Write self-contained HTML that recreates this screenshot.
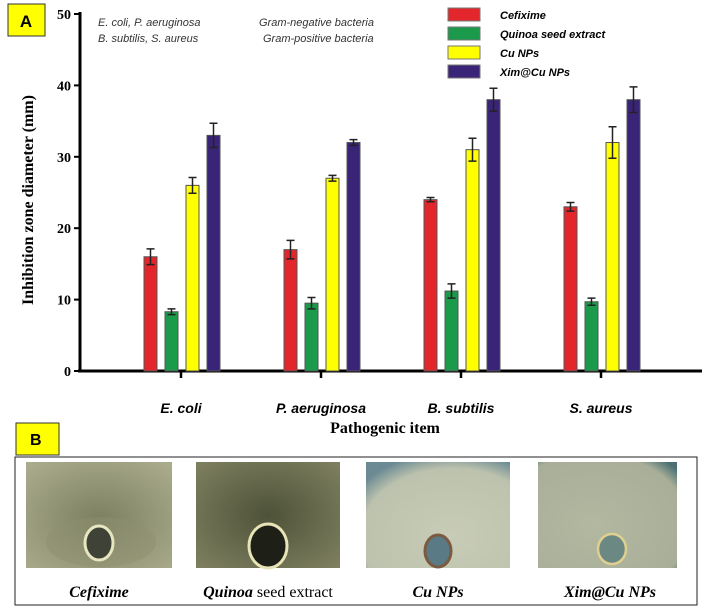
<!DOCTYPE html>
<html><head><meta charset="utf-8"><style>
body{margin:0;background:#fff;width:708px;height:612px;overflow:hidden;font-family:"Liberation Sans",sans-serif}
svg{position:absolute;left:0;top:0}
</style></head><body>
<svg width="708" height="612" id="chart">
<defs>
<radialGradient id="g1" cx="0.5" cy="0.55" r="0.7"><stop offset="0" stop-color="#7c8060"/><stop offset="1" stop-color="#a9ab8c"/></radialGradient>
<radialGradient id="g2" cx="0.5" cy="0.5" r="0.7"><stop offset="0" stop-color="#4e5238"/><stop offset="1" stop-color="#7e8060"/></radialGradient>
<radialGradient id="g3" cx="0.6" cy="0.7" r="0.8"><stop offset="0" stop-color="#c8ccb6"/><stop offset="0.8" stop-color="#bcc2ad"/><stop offset="1" stop-color="#6b8a94"/></radialGradient>
<radialGradient id="g4" cx="0.4" cy="0.6" r="0.8"><stop offset="0" stop-color="#b3b8a0"/><stop offset="0.85" stop-color="#a8ae98"/><stop offset="1" stop-color="#4a7074"/></radialGradient>
</defs>
<rect x="8" y="4" width="37" height="32" fill="#ffff00" stroke="#333"/>
<text x="26" y="27" font-size="17" font-weight="bold" text-anchor="middle">A</text>
<g font-size="11" font-style="italic" fill="#333">
<text x="98" y="26">E. coli, P. aeruginosa</text><text x="259" y="26">Gram-negative bacteria</text>
<text x="98" y="42">B. subtilis, S. aureus</text><text x="263" y="42">Gram-positive bacteria</text>
</g>
<g id="legend"></g>
<g id="plot"></g>
<text transform="translate(33,200) rotate(-90)" font-family="Liberation Serif" font-weight="bold" font-size="16" text-anchor="middle">Inhibition zone diameter (mm)</text>
<text x="385" y="433" font-family="Liberation Serif" font-weight="bold" font-size="16" text-anchor="middle">Pathogenic item</text>
<rect x="16" y="423" width="43" height="32" fill="#ffff00" stroke="#333"/>
<text x="30" y="445" font-size="16" font-weight="bold">B</text>
<rect x="15" y="457" width="682" height="148" fill="none" stroke="#222"/>
<g><rect x="26" y="462" width="146" height="106" fill="url(#g1)"/><ellipse cx="101" cy="542" rx="55" ry="25" fill="#8d9070" opacity=".5"/><ellipse cx="99" cy="543" rx="14" ry="17" fill="#3f4236" stroke="#e8e6c0" stroke-width="3"/></g>
<g><rect x="196" y="462" width="144" height="106" fill="url(#g2)"/><ellipse cx="268" cy="546" rx="19" ry="22" fill="#1e2018" stroke="#e8e4b8" stroke-width="3"/></g>
<g><rect x="366" y="462" width="144" height="106" fill="url(#g3)"/><ellipse cx="438" cy="551" rx="13" ry="16" fill="#5a7a86" stroke="#7a5a40" stroke-width="3"/></g>
<g><rect x="538" y="462" width="139" height="106" fill="url(#g4)"/><ellipse cx="612" cy="549" rx="14" ry="15" fill="#6c8882" stroke="#e0d090" stroke-width="2.5"/></g>
<g font-family="Liberation Serif" font-size="16" text-anchor="middle">
<text x="99" y="597" font-style="italic" font-weight="bold">Cefixime</text>
<text x="268" y="597"><tspan font-style="italic" font-weight="bold">Quinoa</tspan> seed extract</text>
<text x="438" y="597" font-style="italic" font-weight="bold">Cu NPs</text>
<text x="610" y="597" font-style="italic" font-weight="bold">Xim@Cu NPs</text>
</g>
</svg>
<script>
const categories=["E. coli","P. aeruginosa","B. subtilis","S. aureus"];
const seriesNames=["Cefixime","Quinoa seed extract","Cu NPs","Xim@Cu NPs"];
const cefixime=[16,17,24,23];
const quinoa=[8.3,9.5,11.2,9.7];
const cuNps=[26,27,31,32];
const ximCuNps=[33,32,38,38];
const cefiximeErr=[1.1,1.3,0.3,0.6];
const quinoaErr=[0.4,0.8,1.0,0.5];
const cuNpsErr=[1.1,0.4,1.6,2.2];
const ximCuNpsErr=[1.7,0.4,1.6,1.8];
const yTicks=[0,10,20,30,40,50];
const colors=["#e3262b","#1a9a4a","#ffff00","#3a2478"];
const NS="http://www.w3.org/2000/svg";
const plot=document.getElementById('plot');
const x0=80,x1=702,yBase=371,yTop=14;
const y=v=>yBase-(v/50)*(yBase-yTop);
const xc=i=>181+i*140;
function el(t,a,p){const e=document.createElementNS(NS,t);for(const k in a)e.setAttribute(k,a[k]);(p||plot).appendChild(e);return e;}
let a=el('line',{x1:x0,y1:yTop-2,x2:x0,y2:yBase,stroke:'#000','stroke-width':3});


a=el('line',{x1:x0-2,y1:yBase,x2:x1,y2:yBase,stroke:'#000','stroke-width':3});


yTicks.forEach(t=>{el('line',{x1:x0-6,y1:y(t),x2:x0,y2:y(t),stroke:'#000','stroke-width':2});
const tx=el('text',{x:x0-9,y:y(t)+5,'text-anchor':'end','font-family':'Liberation Serif','font-weight':'bold','font-size':14});tx.textContent=t;

});
const vals=[cefixime,quinoa,cuNps,ximCuNps],errs=[cefiximeErr,quinoaErr,cuNpsErr,ximCuNpsErr];
categories.forEach((c,i)=>{
el('line',{x1:xc(i),y1:yBase,x2:xc(i),y2:yBase+7,stroke:'#000','stroke-width':2.5});
const tl=el('text',{x:xc(i),y:413,'text-anchor':'middle','font-style':'italic','font-weight':'bold','font-size':14});tl.textContent=c;


vals.forEach((s,j)=>{const bx=xc(i)-37+j*21,w=13,v=s[i],e=errs[j][i];
const r=el('rect',{x:bx,y:y(v),width:w,height:yBase-y(v),fill:colors[j],stroke:'#555','stroke-width':1});


const m=bx+w/2;
el('path',{d:`M${m},${y(v-e)}V${y(v+e)}M${m-4},${y(v+e)}H${m+4}M${m-4},${y(v-e)}H${m+4}`,stroke:'#222','stroke-width':1.5,fill:'none'});
});});
const lg=document.getElementById('legend');
seriesNames.forEach((n,j)=>{const yy=8+j*19;
const r=el('rect',{x:448,y:yy,width:32,height:13,fill:colors[j],stroke:'#777'},lg);


const t=el('text',{x:500,y:yy+11,'font-size':11,'font-style':'italic','font-weight':'bold'},lg);t.textContent=n;

});
</script>
</body></html>
